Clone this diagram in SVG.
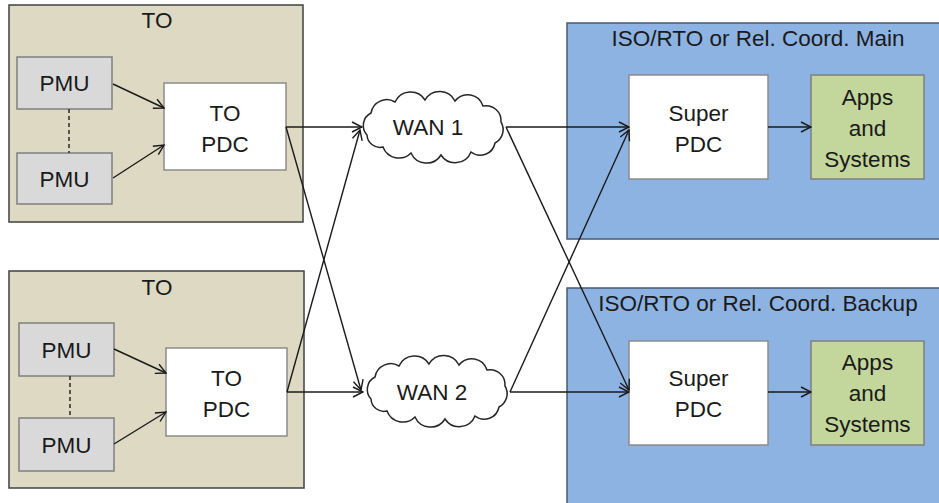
<svg xmlns="http://www.w3.org/2000/svg" width="939" height="503" viewBox="0 0 939 503">
<defs>
<style>
text{font-family:"Liberation Sans",Arial,sans-serif;font-size:22.5px;fill:#1a1a1a;text-anchor:middle}
.to{fill:#ddd9c3;stroke:#404040;stroke-width:1.5}
.pmu{fill:#d9d9d9;stroke:#7f7f7f;stroke-width:1.5}
.pdc{fill:#fff;stroke:#8c8c8c;stroke-width:1.5}
.iso{fill:#8db3e2;stroke:#4a5a70;stroke-width:1.5}
.app{fill:#c3d69b;stroke:#7f7f7f;stroke-width:1.5}
.cloud{fill:#fff;stroke:#262626;stroke-width:1.5}
.c{stroke:#1a1a1a;stroke-width:1.4;fill:none;marker-end:url(#ah)}
.d{stroke:#333;stroke-width:1.6;stroke-dasharray:4,3;fill:none}
</style>
<marker id="ah" viewBox="0 0 12 12" refX="11" refY="6" markerWidth="12" markerHeight="12" markerUnits="userSpaceOnUse" orient="auto">
<path d="M1,1 L11,6 L1,11" fill="none" stroke="#1a1a1a" stroke-width="1.4"/>
</marker>
<path id="cloudShape" class="cloud" d="M-66,8 A14,14 0 0 1 -62,-14 A16,16 0 0 1 -38,-25 A17,17 0 0 1 -8,-27 A17,17 0 0 1 22,-26 A16,16 0 0 1 50,-21 A15,15 0 0 1 68,-5 A15,15 0 0 1 62,16 A15,15 0 0 1 38,25 A17,17 0 0 1 8,28 A17,17 0 0 1 -22,26 A17,17 0 0 1 -50,20 A13,13 0 0 1 -66,8 Z"/>
</defs>

<g id="to-top">
<rect class="to" x="9" y="5" width="294" height="217"/>
<text x="157" y="28">TO</text>
</g>
<g id="pmu-top-1"><rect class="pmu" x="17" y="57" width="95" height="52"/><text x="64.5" y="91">PMU</text></g>
<g id="pmu-top-2"><rect class="pmu" x="17" y="153" width="95" height="51"/><text x="64.5" y="187">PMU</text></g>
<g id="pdc-top"><rect class="pdc" x="164" y="83" width="122" height="87"/><text x="225" y="121">TO</text><text x="225" y="152">PDC</text></g>

<g id="to-bottom">
<rect class="to" x="9" y="271" width="295" height="217"/>
<text x="157" y="295">TO</text>
</g>
<g id="pmu-bot-1"><rect class="pmu" x="19" y="323" width="95" height="53"/><text x="66.5" y="358">PMU</text></g>
<g id="pmu-bot-2"><rect class="pmu" x="19" y="418" width="95" height="53"/><text x="66.5" y="453">PMU</text></g>
<g id="pdc-bottom"><rect class="pdc" x="166" y="348" width="121" height="88"/><text x="226.5" y="386">TO</text><text x="226.5" y="417">PDC</text></g>

<g id="iso-main">
<rect class="iso" x="567" y="23" width="380" height="216"/>
<text x="758" y="46">ISO/RTO or Rel. Coord. Main</text>
</g>
<g id="super-main"><rect class="pdc" x="629" y="75" width="139" height="104"/><text x="698.5" y="121">Super</text><text x="698.5" y="152">PDC</text></g>
<g id="apps-main"><rect class="app" x="811" y="75" width="113" height="104"/><text x="867.5" y="105">Apps</text><text x="867.5" y="136">and</text><text x="867.5" y="167">Systems</text></g>

<g id="iso-backup">
<rect class="iso" x="567" y="288" width="380" height="230"/>
<text x="758" y="311">ISO/RTO or Rel. Coord. Backup</text>
</g>
<g id="super-backup"><rect class="pdc" x="629" y="341" width="139" height="104"/><text x="698.5" y="386">Super</text><text x="698.5" y="417">PDC</text></g>
<g id="apps-backup"><rect class="app" x="811" y="341" width="113" height="104"/><text x="867.5" y="370">Apps</text><text x="867.5" y="401">and</text><text x="867.5" y="432">Systems</text></g>

<g id="wan1"><use href="#cloudShape" transform="translate(433,127)"/><text x="428" y="135">WAN 1</text></g>
<g id="wan2"><use href="#cloudShape" transform="translate(437,391)"/><text x="432" y="400">WAN 2</text></g>

<g id="connectors">
<line class="d" x1="69" y1="109" x2="69" y2="153"/>
<line class="d" x1="70" y1="376" x2="70" y2="418"/>
<line class="c" x1="113" y1="84" x2="164" y2="108"/>
<line class="c" x1="113" y1="178" x2="164" y2="145"/>
<line class="c" x1="114" y1="349" x2="166" y2="373"/>
<line class="c" x1="114" y1="444" x2="166" y2="412"/>
<line class="c" x1="286" y1="127" x2="362" y2="127"/>
<line class="c" x1="286" y1="127" x2="361" y2="390"/>
<line class="c" x1="287" y1="392" x2="363" y2="392"/>
<line class="c" x1="287" y1="392" x2="360" y2="130"/>
<line class="c" x1="506" y1="127" x2="629" y2="127"/>
<line class="c" x1="506" y1="127" x2="629" y2="390"/>
<line class="c" x1="510" y1="392" x2="629" y2="392"/>
<line class="c" x1="510" y1="392" x2="629" y2="130"/>
<line class="c" x1="768" y1="127" x2="811" y2="127"/>
<line class="c" x1="768" y1="392" x2="811" y2="392"/>
</g>
</svg>
